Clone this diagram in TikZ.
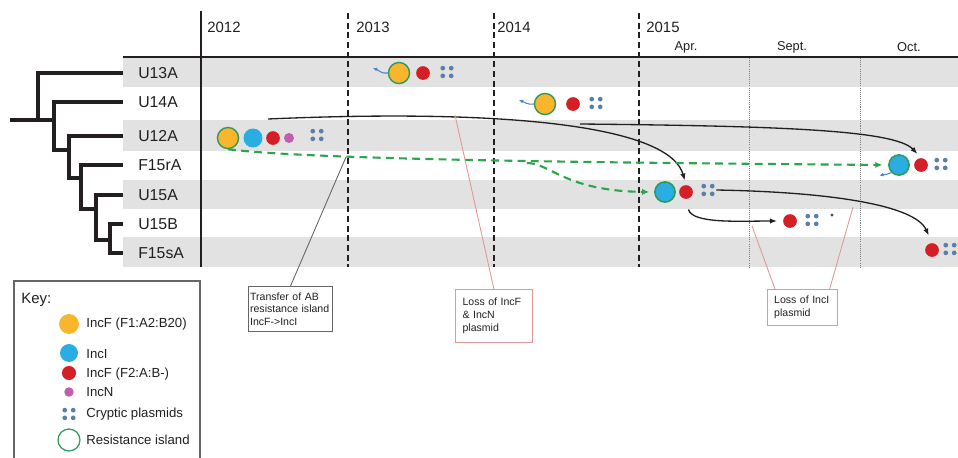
\documentclass[tikz,border=0pt]{standalone}
\usepackage{fontspec}
\setmainfont{Liberation Sans}
\usetikzlibrary{arrows.meta, positioning, calc}
\hyphenpenalty=10000

\definecolor{bandgray}{HTML}{E2E2E2}
\definecolor{incfone}{HTML}{F9B52C}
\definecolor{inci}{HTML}{2AADE3}
\definecolor{incftwo}{HTML}{D41F27}
\definecolor{incn}{HTML}{C25FAD}
\definecolor{islandgreen}{HTML}{2E9B5E}
\definecolor{crypblue}{HTML}{5A7FA8}
\definecolor{hgtgreen}{HTML}{2BA64C}
\definecolor{driftblue}{HTML}{4D86C6}
\definecolor{notepink}{HTML}{E29898}
\definecolor{notegray}{HTML}{666666}
\definecolor{ink}{HTML}{231F20}

\begin{document}
\begin{tikzpicture}[x=0.02cm, y=-0.02cm, text=ink,
    tree/.style={line width=2.3pt, ink},
    strain/.style={anchor=west, inner xsep=8.5pt, inner ysep=0pt, font=\fontsize{9}{10}\selectfont},
    year/.style={anchor=west, inner sep=0pt, font=\fontsize{8.5}{10}\selectfont},
    month/.style={inner sep=0pt, font=\fontsize{7.3}{9}\selectfont},
    plas/.style={circle, inner sep=0pt, draw=none},
    plasf1/.style={plas, fill=incfone, draw=islandgreen, line width=0.8pt, minimum size=12pt},
    plasi/.style={plas, fill=inci, minimum size=10.8pt},
    plasiring/.style={plas, fill=inci, draw=islandgreen, line width=0.9pt, minimum size=11.5pt},
    plasf2/.style={plas, fill=incftwo, minimum size=7.8pt},
    plasn/.style={plas, fill=incn, minimum size=5.7pt},
    crypt/.style={minimum size=9pt, inner sep=0pt, path picture={
        \foreach \dx/\dy in {-1/-1, 1/-1, -1/1, 1/1}
          \fill[crypblue] ([shift={(\dx*2.4pt,\dy*2.2pt)}]path picture bounding box.center) circle (1.35pt);}},
    move/.style={-{Latex[length=4pt,width=3pt]}, line width=0.75pt, ink},
    hgt/.style={-{Latex[length=4pt,width=3.6pt]}, hgtgreen, line width=1.2pt, dash pattern=on 4.5pt off 3pt},
    drift/.style={-{Latex[length=2.5pt,width=2.2pt]}, driftblue, line width=0.6pt},
    notebox/.style={rectangle, draw, line width=0.6pt, align=left, anchor=north west,
        font=\fontsize{6}{7.2}\selectfont},
    keytext/.style={anchor=west, inner sep=0pt, font=\fontsize{7.5}{9}\selectfont}
]
\useasboundingbox (0,0) rectangle (958,457);

% row bands
\foreach \top/\bot in {57/87, 120/151, 180/209, 237/267}
  \fill[bandgray] (123,\top) rectangle (958,\bot);

% time axis
\draw[line width=1.1pt, ink] (123,57) -- (958,57);
\draw[line width=1.1pt, ink] (201,11) -- (201,267);
\foreach \xx in {348, 494, 639}
  \draw[line width=1.1pt, ink, dash pattern=on 3.5pt off 2pt] (\xx,13) -- (\xx,267);
\foreach \xx in {749, 860}
  \draw[line width=0.4pt, gray, dash pattern=on 0.6pt off 0.6pt] (\xx,58) -- (\xx,267);

\node[year] (y12) at (207,27) {2012};
\node[year] (y13) at (356,27) {2013};
\node[year] (y14) at (497,27) {2014};
\node[year] (y15) at (646,27) {2015};
\node[month] (apr) at (686,47) {Apr.};
\node[month] (sep) at (792,47) {Sept.};
\node[month] (oct) at (909,47) {Oct.};

% strains
\node[strain] (u13a) at (123,73) {U13A};
\node[strain] (u14a) at (123,102) {U14A};
\node[strain] (u12a) at (123,136) {U12A};
\node[strain] (f15ra) at (123,165) {F15rA};
\node[strain] (u15a) at (123,195) {U15A};
\node[strain] (u15b) at (123,224) {U15B};
\node[strain] (f15sa) at (123,253) {F15sA};

% tree
\draw[tree] (10,120) -- (54,120);
\draw[tree] (u13a.west) -| (38,120);
\draw[tree] (u14a.west) -| (54,150) -- (69,150);
\draw[tree] (u12a.west) -| (69,178) -- (81,178);
\draw[tree] (f15ra.west) -| (81,209) -- (96,209);
\draw[tree] (u15a.west) -| (96,240) -- (110,240);
\draw[tree] (u15b.west) -| (110,253) -- (f15sa.west);

% plasmid contents
\node[plasf1] (u13f) at (399,73) {};
\node[plasf2] (u13r) at (423,73) {};
\node[crypt] (u13d) at (447,72) {};

\node[plasf1] (u14f) at (545,104) {};
\node[plasf2] (u14r) at (573,104) {};
\node[crypt] (u14d) at (596,103) {};

\node[plasf1] (u12f) at (228,138) {};
\node[plasi] (u12i) at (253,138) {};
\node[plasf2] (u12r) at (273,138) {};
\node[plasn] (u12n) at (289,138) {};
\node[crypt] (u12d) at (317,135) {};

\node[plasiring] (f15ri) at (899,165) {};
\node[plasf2] (f15rr) at (921,165) {};
\node[crypt] (f15rd) at (941,164) {};

\node[plasiring] (u15ai) at (665,192) {};
\node[plasf2] (u15ar) at (686,192) {};
\node[crypt] (u15ad) at (708,190) {};

\node[plasf2] (u15br) at (790,221) {};
\node[crypt] (u15bd) at (812,220) {};
\node[plas, fill=ink!80, minimum size=1.8pt] (u15bx) at (832,215) {};

\node[plasf2] (f15sr) at (932,250) {};
\node[crypt] (f15sd) at (950,249) {};

% plasmid movements
\coordinate (u12top) at (268,119);
\coordinate (fork) at (580,124);
\coordinate (hgtfork) at (527,163);

\draw[move, shorten >=2.5pt] (u12top) .. controls (520,108) and (670,128) .. (u15ar.north);
\draw[move, shorten >=3pt] (fork) .. controls (780,126) and (895,130) .. (f15rr.north);
\draw[move, shorten >=4.5pt] (u15ad.east) .. controls (830,192) and (915,205) .. (f15sr.north);
\draw[move, shorten <=6pt, shorten >=3.3pt] (u15ar.south) .. controls (692,224) and (740,221) .. (u15br.west);

\draw[hgt, shorten >=3.3pt] (u12f.south) .. controls (300,158) and (500,162) .. (f15ri.west);
\draw[hgt, shorten >=2.8pt] (hgtfork) .. controls (550,163) and (565,191) .. (u15ai.west);

\draw[drift] (u13f.west) to[out=190, in=-20] ++(-15,-5);
\draw[drift] (u14f.west) to[out=190, in=-20] ++(-15,-4);
\draw[drift] (f15ri.south west) to[out=205, in=15] ++(-12,3);

% notes
\coordinate (transfer) at (346,157);
\coordinate (lossf) at (455,115);
\coordinate (lossi1) at (752,226);
\coordinate (lossi2) at (853,207);

\node[notebox, draw=notegray, text width=46pt, inner xsep=0.9pt, minimum height=25.5pt] (note1) at (248,286)
  {Transfer of AB\\resistance island\\IncF->IncI};
\node[notebox, draw=notepink, text width=35.7pt, inner xsep=4pt, minimum height=30pt] (note2) at (455,289)
  {Loss of IncF\\\& IncN\\plasmid};
\node[notebox, draw=notepink, text width=32pt, inner xsep=3.8pt, minimum height=20.4pt] (note3) at (767,289)
  {Loss of IncI\\plasmid};

\draw[notegray, line width=0.5pt] (note1.north) -- (transfer);
\draw[notepink, line width=0.5pt] (note2.north) -- (lossf);
\draw[notepink, line width=0.5pt] ($(note3.north west)+(8,0)$) -- (lossi1);
\draw[notepink, line width=0.5pt] ($(note3.north east)+(-8,0)$) -- (lossi2);

% key
\draw[notegray, line width=0.7pt] (14,470) -- (14,281) -- (200,281) -- (200,470);
\node[anchor=west, inner sep=0pt, font=\fontsize{8.5}{10}\selectfont] (keyhead) at (21,300) {Key:};
\node[plas, fill=incfone, minimum size=11.3pt] (k1) at (69,324) {};
\node[plas, fill=inci, minimum size=10.2pt] (k2) at (69,353) {};
\node[plas, fill=incftwo, minimum size=8pt] (k3) at (69,373) {};
\node[plas, fill=incn, minimum size=5.4pt] (k4) at (69,392) {};
\node[crypt] (k5) at (69,414) {};
\node[plas, draw=islandgreen, line width=0.7pt, fill=white, minimum size=12.5pt] (k6) at (69,440) {};
\node[keytext] (k1t) at (86,324) {IncF (F1:A2:B20)};
\node[keytext] (k2t) at (86,354) {IncI};
\node[keytext] (k3t) at (86,374) {IncF (F2:A:B-)};
\node[keytext] (k4t) at (86,392) {IncN};
\node[keytext] (k5t) at (86,414) {Cryptic plasmids};
\node[keytext] (k6t) at (86,440) {Resistance island};
\end{tikzpicture}
\end{document}
